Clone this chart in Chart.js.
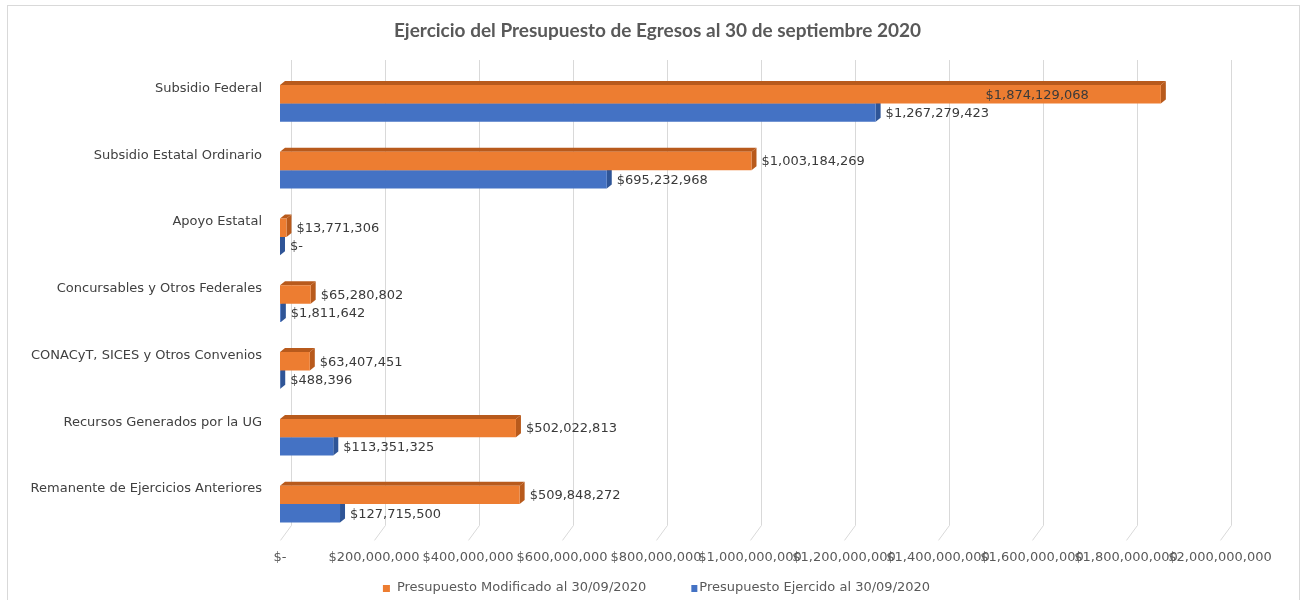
<!DOCTYPE html>
<html>
<head>
<meta charset="utf-8">
<script src="https://cdn.jsdelivr.net/npm/chart.js@4"></script>
<style>
  body { margin: 0; background: #fff; }
  #box { position: absolute; left: 7px; top: 5px; width: 1293px; height: 600px; border: 1px solid #d9d9d9; box-sizing: border-box; }
</style>
</head>
<body>
<div id="box"><canvas id="myChart"></canvas></div>
<script>
const categories = ['Subsidio Federal', 'Subsidio Estatal Ordinario', 'Apoyo Estatal', 'Concursables y Otros Federales',
    'CONACyT, SICES y Otros Convenios', 'Recursos Generados por la UG', 'Remanente de Ejercicios Anteriores'];
const modificado = [1874129068, 1003184269, 13771306, 65280802, 63407451, 502022813, 509848272];
const ejercido = [1267279423, 695232968, 0, 1811642, 488396, 113351325, 127715500];
const seriesNames = ['Presupuesto Modificado al 30/09/2020', 'Presupuesto Ejercido al 30/09/2020'];
const chartTitle = 'Ejercicio del Presupuesto de Egresos al 30 de septiembre 2020';

const money = v => v === 0 ? '$-' : '$' + Math.round(v).toLocaleString('en-US');

const DX = 5, DY = 4;
const sideColors = ['#b85a1c', '#2f5597'];

// fake 3D: back grid + top/right faces of the bars, value labels, title and legend
const depth3d = {
    id: 'depth3d',
    beforeDatasetsDraw(chart) {
        const ctx = chart.ctx, area = chart.chartArea, xs = chart.scales.x;
        ctx.save();
        ctx.strokeStyle = '#d9d9d9';
        ctx.lineWidth = 1;
        xs.ticks.forEach(t => {
            const px = Math.round(xs.getPixelForValue(t.value)) + 0.5;
            ctx.beginPath();
            ctx.moveTo(px + 11, area.top - 10);
            ctx.lineTo(px + 11, area.bottom - 12);
            ctx.lineTo(px, area.bottom + 3);
            ctx.stroke();
        });
        chart.data.datasets.forEach((ds, i) => {
            chart.getDatasetMeta(i).data.forEach(bar => {
                const top = bar.y - bar.height / 2, bot = bar.y + bar.height / 2;
                ctx.fillStyle = sideColors[i];
                ctx.beginPath();
                ctx.moveTo(bar.base, top);
                ctx.lineTo(bar.x, top);
                ctx.lineTo(bar.x + DX, top - DY);
                ctx.lineTo(bar.base + DX, top - DY);
                ctx.closePath();
                ctx.fill();
                ctx.beginPath();
                ctx.moveTo(bar.x, top);
                ctx.lineTo(bar.x + DX, top - DY);
                ctx.lineTo(bar.x + DX, bot - DY);
                ctx.lineTo(bar.x, bot);
                ctx.closePath();
                ctx.fill();
            });
        });
        ctx.restore();
    },
    afterDatasetsDraw(chart) {
        const ctx = chart.ctx, area = chart.chartArea;
        ctx.save();
        ctx.font = '13px "DejaVu Sans"';
        ctx.fillStyle = '#3a3a3a';
        ctx.textBaseline = 'middle';
        chart.data.datasets.forEach((ds, i) => {
            chart.getDatasetMeta(i).data.forEach((bar, j) => {
                const txt = money(ds.data[j]);
                const w = ctx.measureText(txt).width;
                if (bar.x + DX + 6 + w > area.right) {
                    ctx.textAlign = 'right';
                    ctx.fillText(txt, bar.x - 72, bar.y + 1);
                } else {
                    ctx.textAlign = 'left';
                    ctx.fillText(txt, bar.x + DX + 5, bar.y + 1);
                }
            });
        });
        ctx.restore();
    },
    afterDraw(chart) {
        const ctx = chart.ctx;
        ctx.save();
        ctx.textBaseline = 'middle';
        ctx.textAlign = 'center';
        ctx.font = 'bold 19px Lato';
        ctx.fillStyle = '#595959';
        ctx.fillText(chartTitle, chart.width / 2 + 4, 25);

        ctx.font = '13px "DejaVu Sans"';
        ctx.textAlign = 'left';
        const ds = chart.data.datasets;
        const w1 = ctx.measureText(ds[0].label).width, w2 = ctx.measureText(ds[1].label).width;
        const total = 7 + 7 + w1 + 45 + 6 + 2 + w2;
        let x = chart.width / 2 - total / 2 + 3;
        const y = 582;
        ctx.fillStyle = ds[0].backgroundColor;
        ctx.fillRect(x, y - 3, 7, 7);
        x += 14;
        ctx.fillStyle = '#595959';
        ctx.fillText(ds[0].label, x, y);
        x += w1 + 45;
        ctx.fillStyle = ds[1].backgroundColor;
        ctx.fillRect(x, y - 3, 6, 7);
        x += 8;
        ctx.fillStyle = '#595959';
        ctx.fillText(ds[1].label, x, y);
        ctx.restore();
    }
};

const ctx = document.getElementById('myChart').getContext('2d');
const myChart = new Chart(ctx, {
    type: 'bar',
    data: {
        labels: categories,
        datasets: [{
            label: seriesNames[0],
            data: modificado,
            backgroundColor: '#ed7d31',
            categoryPercentage: 0.55,
            barPercentage: 1.0
        }, {
            label: seriesNames[1],
            data: ejercido,
            backgroundColor: '#4472c4',
            categoryPercentage: 0.55,
            barPercentage: 1.0
        }]
    },
    options: {
        indexAxis: 'y',
        responsive: true,
        maintainAspectRatio: false,
        animation: false,
        layout: { padding: { left: 0, right: 79, top: 64, bottom: 35 } },
        plugins: {
            title: { display: false },
            legend: { display: false },
            tooltip: { enabled: false }
        },
        scales: {
            x: {
                min: 0,
                max: 2000000000,
                ticks: {
                    stepSize: 200000000,
                    color: '#595959',
                    font: { family: 'DejaVu Sans', size: 13 },
                    padding: 4,
                    maxRotation: 0,
                    autoSkip: false,
                    callback: v => money(v)
                },
                grid: { display: false },
                border: { display: false }
            },
            y: {
                afterFit: s => { s.width = 272; },
                ticks: {
                    color: '#404040',
                    font: { family: 'DejaVu Sans', size: 13 },
                    padding: 10,
                    labelOffset: -15
                },
                grid: { display: false },
                border: { display: false }
            }
        }
    },
    plugins: [depth3d]
});
</script>
</body>
</html>
